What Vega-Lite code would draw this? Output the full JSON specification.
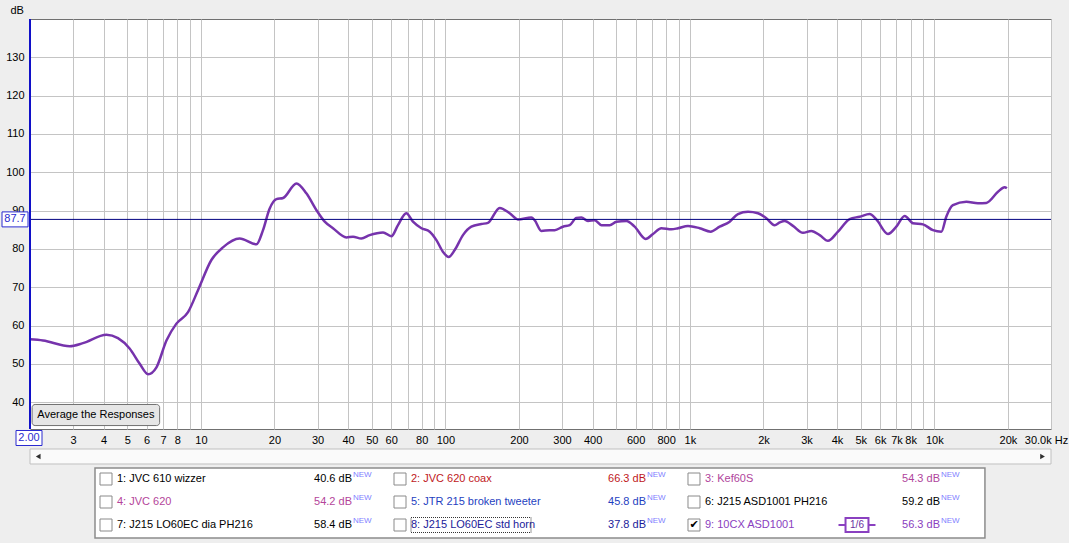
{
  "$schema": "https://vega.github.io/schema/vega-lite/v6.json",
  "width": 1021,
  "height": 410,
  "autosize": {"type": "none"},
  "padding": {"left": 30, "top": 19, "right": 18, "bottom": 114},
  "background": "#eeeeee",
  "config": {"font": "Liberation Sans", "view": {"fill": "white", "stroke": "#707070", "strokeWidth": 1}},
  "datasets": {
    "curve": [
      {"f": 2, "db": 56.4}, {"f": 2.26, "db": 56.1}, {"f": 2.91, "db": 54.6}, {"f": 3.29, "db": 55.4},
      {"f": 4.11, "db": 57.6}, {"f": 4.58, "db": 56.7}, {"f": 5.11, "db": 54.0}, {"f": 5.62, "db": 50.0},
      {"f": 6.08, "db": 47.3}, {"f": 6.58, "db": 49.1}, {"f": 7.23, "db": 56.1}, {"f": 7.94, "db": 60.5},
      {"f": 8.86, "db": 63.5}, {"f": 9.73, "db": 69.2}, {"f": 11.04, "db": 77.1}, {"f": 12.31, "db": 80.4},
      {"f": 14.4, "db": 82.7}, {"f": 16.87, "db": 81.2}, {"f": 17.95, "db": 84.9}, {"f": 19.1, "db": 90.5},
      {"f": 20.36, "db": 93.0}, {"f": 21.7, "db": 93.3}, {"f": 24.6, "db": 97.1}, {"f": 27.0, "db": 94.5},
      {"f": 29.7, "db": 90.1}, {"f": 32.1, "db": 87.1}, {"f": 34.7, "db": 85.4}, {"f": 39.4, "db": 83.0},
      {"f": 41.9, "db": 83.2}, {"f": 45.3, "db": 82.7}, {"f": 49.0, "db": 83.6}, {"f": 55.6, "db": 84.3},
      {"f": 60.1, "db": 83.3}, {"f": 64.0, "db": 86.2}, {"f": 69.2, "db": 89.3}, {"f": 73.7, "db": 87.1},
      {"f": 79.8, "db": 85.4}, {"f": 86.3, "db": 84.5}, {"f": 91.9, "db": 82.3}, {"f": 97.8, "db": 79.2},
      {"f": 103.2, "db": 77.9}, {"f": 109.2, "db": 79.7}, {"f": 118, "db": 83.6}, {"f": 127.7, "db": 85.8},
      {"f": 140.3, "db": 86.5}, {"f": 149.3, "db": 86.8}, {"f": 166.8, "db": 90.7}, {"f": 183.2, "db": 89.3},
      {"f": 198, "db": 87.7}, {"f": 224.7, "db": 88.2}, {"f": 231.8, "db": 87.5}, {"f": 247, "db": 84.7},
      {"f": 267, "db": 84.9}, {"f": 280, "db": 84.9}, {"f": 302.7, "db": 85.8}, {"f": 322.5, "db": 86.2},
      {"f": 343.5, "db": 88.1}, {"f": 360, "db": 88.2}, {"f": 383, "db": 87.3}, {"f": 408, "db": 87.5},
      {"f": 435, "db": 86.2}, {"f": 470, "db": 86.2}, {"f": 500.6, "db": 87.1}, {"f": 550, "db": 87.3},
      {"f": 594.6, "db": 85.8}, {"f": 659.5, "db": 82.6}, {"f": 706.7, "db": 83.9}, {"f": 764.6, "db": 85.4},
      {"f": 840.6, "db": 85.1}, {"f": 894.6, "db": 85.4}, {"f": 982.7, "db": 86.0}, {"f": 1096.8, "db": 85.4},
      {"f": 1216, "db": 84.5}, {"f": 1324, "db": 85.8}, {"f": 1455, "db": 87.1}, {"f": 1573, "db": 89.1},
      {"f": 1729, "db": 89.7}, {"f": 1900, "db": 89.3}, {"f": 2055, "db": 88.0}, {"f": 2222, "db": 86.2},
      {"f": 2330, "db": 86.9}, {"f": 2442, "db": 87.3}, {"f": 2641, "db": 86.0}, {"f": 2902, "db": 84.2},
      {"f": 3140, "db": 84.7}, {"f": 3396, "db": 83.6}, {"f": 3671, "db": 82.1}, {"f": 4034, "db": 84.5},
      {"f": 4504, "db": 87.8}, {"f": 4949, "db": 88.4}, {"f": 5436, "db": 89.1}, {"f": 5789, "db": 87.7},
      {"f": 6461, "db": 83.9}, {"f": 6990, "db": 85.8}, {"f": 7559, "db": 88.6}, {"f": 8176, "db": 86.7},
      {"f": 8983, "db": 86.4}, {"f": 9871, "db": 84.9}, {"f": 10681, "db": 84.5}, {"f": 11190, "db": 88.4},
      {"f": 11910, "db": 91.4}, {"f": 13513, "db": 92.3}, {"f": 15074, "db": 91.9}, {"f": 16310, "db": 92.0},
      {"f": 18205, "db": 94.9}, {"f": 19380, "db": 96.1}, {"f": 19800, "db": 95.8}
    ],
    "legend": [
      {"col": 1, "row": 1, "name": "1: JVC 610 wizzer", "val": "40.6 dB", "checked": false, "focused": false},
      {"col": 2, "row": 1, "name": "2: JVC 620 coax", "val": "66.3 dB", "checked": false, "focused": false},
      {"col": 3, "row": 1, "name": "3: Kef60S", "val": "54.3 dB", "checked": false, "focused": false},
      {"col": 1, "row": 2, "name": "4: JVC 620", "val": "54.2 dB", "checked": false, "focused": false},
      {"col": 2, "row": 2, "name": "5: JTR 215 broken tweeter", "val": "45.8 dB", "checked": false, "focused": false},
      {"col": 3, "row": 2, "name": "6: J215 ASD1001 PH216", "val": "59.2 dB", "checked": false, "focused": false},
      {"col": 1, "row": 3, "name": "7: J215 LO60EC dia PH216", "val": "58.4 dB", "checked": false, "focused": false},
      {"col": 2, "row": 3, "name": "8: J215 LO60EC std horn", "val": "37.8 dB", "checked": false, "focused": true},
      {"col": 3, "row": 3, "name": "9: 10CX ASD1001", "val": "56.3 dB", "checked": true, "focused": false}
    ]
  },
  "layer": [
    {
      "layer": [
        {
          "data": {"name": "curve"},
          "mark": {"type": "line", "interpolate": "monotone", "color": "#7633ac", "strokeWidth": 2.5},
          "encoding": {
            "x": {
              "field": "f", "type": "quantitative",
              "scale": {"type": "log", "domain": [2, 30000], "nice": false},
              "axis": {
                "values": [2,3,4,5,6,7,8,9,10,20,30,40,50,60,70,80,90,100,200,300,400,500,600,700,800,900,1000,2000,3000,4000,5000,6000,7000,8000,9000,10000,20000,30000],
                "labelExpr": "datum.value == 30000 ? '30.0k Hz' : datum.value >= 1000 ? (datum.value == 9000 ? '' : format(datum.value/1000, 'd') + 'k') : indexof([3,4,5,6,7,8,10,20,30,40,50,60,80,100,200,300,400,600,800], datum.value) >= 0 ? format(datum.value, 'd') : ''",
                "grid": true, "gridColor": "#c4c4c4", "gridOpacity": 1, "ticks": false, "domain": false, "title": null,
                "labelFontSize": 11, "labelColor": "#000000", "labelPadding": 5, "labelOverlap": false, "labelFlush": false, "labelBound": false,
                "labelOffset": {"condition": {"test": "datum.value == 30000", "value": -5}, "value": 0}
              }
            },
            "y": {
              "field": "db", "type": "quantitative",
              "scale": {"domain": [33, 140], "nice": false, "zero": false},
              "axis": {
                "values": [40,50,60,70,80,90,100,110,120,130],
                "grid": true, "gridColor": "#c4c4c4", "gridOpacity": 1, "ticks": false, "domain": false,
                "title": "dB", "titleAngle": 0, "titleX": -20, "titleY": -9, "titleAlign": "left", "titleBaseline": "middle",
                "titleFontSize": 11, "titleFontWeight": "normal", "titleColor": "#000000",
                "labelFontSize": 11, "labelColor": "#000000", "labelPadding": 6
              }
            }
          }
        },
        {
          "data": {"values": [{}]},
          "mark": {"type": "rule", "color": "#000080", "strokeWidth": 1},
          "encoding": {"y": {"datum": 87.7, "type": "quantitative"}}
        },
        {
          "data": {"values": [{}]},
          "mark": {"type": "rule", "color": "#1010c8", "strokeWidth": 2},
          "encoding": {"x": {"datum": 2, "type": "quantitative"}}
        },
        {
          "data": {"values": [{}]},
          "mark": {"type": "rect", "fill": "#e6e6e6", "stroke": "#707070", "strokeWidth": 1, "cornerRadius": 3},
          "encoding": {
            "x": {"datum": 2.04, "type": "quantitative"}, "x2": {"datum": 6.78},
            "y": {"datum": 39.4, "type": "quantitative"}, "y2": {"datum": 33.9}
          }
        },
        {
          "data": {"values": [{}]},
          "mark": {"type": "text", "text": "Average the Responses", "fontSize": 11, "color": "#000000", "align": "center", "baseline": "middle"},
          "encoding": {"x": {"datum": 3.72, "type": "quantitative"}, "y": {"datum": 36.6, "type": "quantitative"}}
        },
        {
          "data": {"values": [{}]},
          "mark": {"type": "rect", "fill": "#fafafa", "stroke": "#c0c0c0", "strokeWidth": 1, "clip": false},
          "encoding": {
            "x": {"datum": 2, "type": "quantitative"}, "x2": {"datum": 30000},
            "y": {"datum": 27.78, "type": "quantitative"}, "y2": {"datum": 23.87}
          }
        },
        {
          "data": {"values": [{}]},
          "mark": {"type": "point", "shape": "triangle-left", "size": 30, "filled": true, "color": "#303030", "opacity": 1},
          "encoding": {"x": {"datum": 2.16, "type": "quantitative"}, "y": {"datum": 25.8, "type": "quantitative"}}
        },
        {
          "data": {"values": [{}]},
          "mark": {"type": "point", "shape": "triangle-right", "size": 30, "filled": true, "color": "#303030", "opacity": 1},
          "encoding": {"x": {"datum": 27700, "type": "quantitative"}, "y": {"datum": 25.8, "type": "quantitative"}}
        },
        {
          "data": {"values": [{}]},
          "mark": {"type": "point", "shape": "M-1,-0.577H1V0.577H-1Z", "size": 676, "filled": true, "fill": "white", "stroke": "#2a2ad0", "strokeWidth": 1, "opacity": 1, "xOffset": -15},
          "encoding": {"x": {"datum": 2, "type": "quantitative"}, "y": {"datum": 87.7, "type": "quantitative"}}
        },
        {
          "data": {"values": [{}]},
          "mark": {"type": "text", "text": "87.7", "fontSize": 11, "color": "#2a2ad0", "align": "center", "baseline": "middle", "dx": -15},
          "encoding": {"x": {"datum": 2, "type": "quantitative"}, "y": {"datum": 87.7, "type": "quantitative"}}
        },
        {
          "data": {"values": [{}]},
          "mark": {"type": "point", "shape": "M-1,-0.577H1V0.577H-1Z", "size": 676, "filled": true, "fill": "white", "stroke": "#2a2ad0", "strokeWidth": 1, "opacity": 1, "xOffset": -1, "yOffset": 9},
          "encoding": {"x": {"datum": 2, "type": "quantitative"}, "y": {"datum": 33, "type": "quantitative"}}
        },
        {
          "data": {"values": [{}]},
          "mark": {"type": "text", "text": "2.00", "fontSize": 11, "color": "#2a2ad0", "align": "center", "baseline": "middle", "dx": -1, "dy": 9},
          "encoding": {"x": {"datum": 2, "type": "quantitative"}, "y": {"datum": 33, "type": "quantitative"}}
        }
      ]
    },
    {
      "layer": [
        {
          "data": {"values": [{}]},
          "mark": {"type": "rect", "fill": "white", "stroke": "#8c8c8c", "strokeWidth": 1.5},
          "encoding": {
            "x": {"datum": 0.983, "type": "quantitative", "scale": {"domain": [0.7619, 4.2347], "nice": false, "zero": false}, "axis": null},
            "x2": {"datum": 4.01},
            "y": {"datum": 0.522, "type": "quantitative", "scale": {"domain": [-19, -1.174], "nice": false, "zero": false, "reverse": true}, "axis": null},
            "y2": {"datum": 3.565}
          }
        },
        {
          "data": {"name": "legend"},
          "mark": {"type": "point", "shape": "square", "size": 144, "filled": true, "fill": "white", "stroke": "#8a8a8a", "strokeWidth": 1, "opacity": 1, "xOffset": 6},
          "encoding": {
            "x": {"field": "col", "type": "quantitative", "scale": {"domain": [0.7619, 4.2347], "nice": false, "zero": false}, "axis": null},
            "y": {"field": "row", "type": "quantitative", "scale": {"domain": [-19, -1.174], "nice": false, "zero": false, "reverse": true}, "axis": null}
          }
        },
        {
          "data": {"name": "legend"},
          "transform": [{"filter": "datum.checked"}],
          "mark": {"type": "text", "text": "✔", "fontSize": 11, "font": "DejaVu Sans", "color": "#000000", "align": "center", "baseline": "middle", "dx": 6},
          "encoding": {
            "x": {"field": "col", "type": "quantitative", "axis": null},
            "y": {"field": "row", "type": "quantitative", "axis": null}
          }
        },
        {
          "data": {"name": "legend"},
          "mark": {"type": "text", "fontSize": 11, "align": "left", "baseline": "middle", "dx": 17},
          "encoding": {
            "x": {"field": "col", "type": "quantitative", "axis": null},
            "y": {"field": "row", "type": "quantitative", "axis": null},
            "text": {"field": "name"},
            "color": {
              "field": "name", "type": "nominal", "legend": null,
              "scale": {
                "domain": ["1: JVC 610 wizzer", "2: JVC 620 coax", "3: Kef60S", "4: JVC 620", "5: JTR 215 broken tweeter", "6: J215 ASD1001 PH216", "7: J215 LO60EC dia PH216", "8: J215 LO60EC std horn", "9: 10CX ASD1001"],
                "range": ["#000000", "#c0181c", "#b0449c", "#b4449a", "#1f3fbf", "#000000", "#000000", "#1a1a9a", "#8a40c0"]
              }
            }
          }
        },
        {
          "data": {"name": "legend"},
          "mark": {"type": "text", "fontSize": 11, "align": "right", "baseline": "middle", "dx": 252},
          "encoding": {
            "x": {"field": "col", "type": "quantitative", "axis": null},
            "y": {"field": "row", "type": "quantitative", "axis": null},
            "text": {"field": "val"},
            "color": {"field": "name", "type": "nominal", "legend": null}
          }
        },
        {
          "data": {"name": "legend"},
          "mark": {"type": "text", "text": "NEW", "fontSize": 8, "color": "#7f7fff", "align": "left", "baseline": "middle", "dx": 253, "dy": -4},
          "encoding": {
            "x": {"field": "col", "type": "quantitative", "axis": null},
            "y": {"field": "row", "type": "quantitative", "axis": null}
          }
        },
        {
          "data": {"name": "legend"},
          "transform": [{"filter": "datum.checked"}],
          "mark": {"type": "point", "shape": "M-1,0H-0.62M0.62,0H1M-0.62,-0.38H0.62V0.38H-0.62Z", "size": 1369, "filled": true, "fill": "white", "stroke": "#8a40c0", "strokeWidth": 2, "opacity": 1, "xOffset": 169},
          "encoding": {
            "x": {"field": "col", "type": "quantitative", "axis": null},
            "y": {"field": "row", "type": "quantitative", "axis": null}
          }
        },
        {
          "data": {"name": "legend"},
          "transform": [{"filter": "datum.checked"}],
          "mark": {"type": "text", "text": "1/6", "fontSize": 10, "color": "#6a30a0", "align": "center", "baseline": "middle", "dx": 169},
          "encoding": {
            "x": {"field": "col", "type": "quantitative", "axis": null},
            "y": {"field": "row", "type": "quantitative", "axis": null}
          }
        },
        {
          "data": {"name": "legend"},
          "transform": [{"filter": "datum.focused"}],
          "mark": {"type": "point", "shape": "M-1,-0.125H1V0.125H-1Z", "size": 14400, "filled": false, "stroke": "#333333", "strokeWidth": 1, "strokeDash": [1, 1], "opacity": 1, "xOffset": 77},
          "encoding": {
            "x": {"field": "col", "type": "quantitative", "axis": null},
            "y": {"field": "row", "type": "quantitative", "axis": null}
          }
        }
      ]
    }
  ],
  "resolve": {"scale": {"x": "independent", "y": "independent", "color": "independent"}}
}
